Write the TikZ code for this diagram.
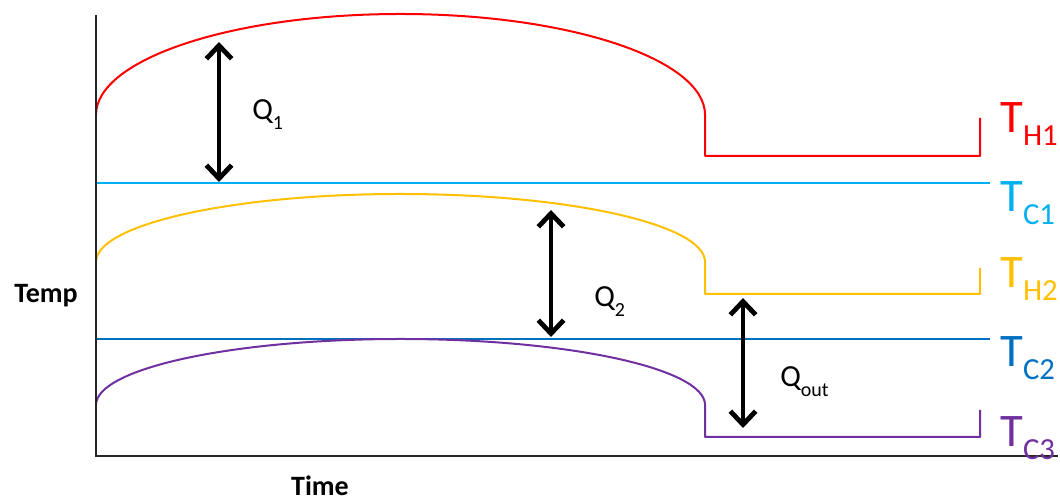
\documentclass[tikz,border=0pt]{standalone}
\usepackage{fontspec}
\setmainfont{Carlito}
\usetikzlibrary{arrows.meta}

\definecolor{hotred}{HTML}{FF0000}
\definecolor{coldone}{HTML}{00B0F0}
\definecolor{hottwo}{HTML}{FFC000}
\definecolor{coldtwo}{HTML}{0070C0}
\definecolor{coldthree}{HTML}{7030A0}

% temperature label: big T with a lowered subscript
\newcommand\templabel[1]{{\fontsize{35}{35}\selectfont T}\raisebox{-9.4pt}{\fontsize{23}{23}\selectfont #1}}
% heat label: Q with a lowered subscript
\newcommand\heatlabel[1]{{\fontsize{23}{23}\selectfont Q}\raisebox{-7pt}{\fontsize{15}{15}\selectfont #1}}

\begin{document}
\begin{tikzpicture}[x=0.75pt,y=0.75pt,
  curve/.style={line width=1.5pt, line join=round},
  level/.style={line width=1.5pt},
  axis/.style={line width=1.5pt, black!85},
  heatarrow/.style={line width=3.6pt,
    {Straight Barb[length=10pt,width=19pt]}-{Straight Barb[length=10pt,width=19pt]}},
  lbl/.style={inner sep=0pt, anchor=base west},
  axlabel/.style={inner sep=0pt, anchor=base, font=\fontsize{21}{21}\selectfont\bfseries}]

\useasboundingbox (0,0) rectangle (1060,502);

% constant cold-side temperatures
\draw[level, coldone] (96,319) -- (990,319);
\draw[level, coldtwo] (96,163) -- (990,163);

% hot-stream temperature profiles
\draw[curve, hotred] (96,387) arc[start angle=180, end angle=0, x radius=228.4pt, y radius=75.75pt]
  -- (705,346) -- (980,346) -- (980,384);
\draw[curve, hottwo] (96,240) arc[start angle=180, end angle=0, x radius=228.4pt, y radius=51pt]
  -- (705,208) -- (980,208) -- (980,234);
\draw[curve, coldthree] (96,97) arc[start angle=180, end angle=0, x radius=228.4pt, y radius=49.5pt]
  -- (705,65) -- (980,65) -- (980,92);

% axes
\coordinate (origin) at (96,46);
\coordinate (ytop) at (96,487);
\coordinate (xend) at (1058,46);
\draw[axis] (ytop) -- (origin) -- (xend);

% heat transfer arrows
\coordinate (q1a) at (219,460);
\coordinate (q1b) at (219,320);
\coordinate (q2a) at (551,292);
\coordinate (q2b) at (551,165);
\coordinate (qoa) at (743,204);
\coordinate (qob) at (743,74);
\draw[heatarrow] (q1a) -- (q1b);
\draw[heatarrow] (q2a) -- (q2b);
\draw[heatarrow] (qoa) -- (qob);

\node[lbl] (lq1) at (252,382) {\heatlabel{1}};
\node[lbl] (lq2) at (594,195) {\heatlabel{2}};
\node[lbl] (lqo) at (780,115) {\heatlabel{out}};

% stream labels
\node[lbl, text=hotred]    (th1) at (1000,369) {\templabel{H1}};
\node[lbl, text=coldone]   (tc1) at (1000,290) {\templabel{C1}};
\node[lbl, text=hottwo]    (th2) at (1000,214) {\templabel{H2}};
\node[lbl, text=coldtwo]   (tc2) at (1000,135) {\templabel{C2}};
\node[lbl, text=coldthree] (tc3) at (1000,55)  {\templabel{C3}};

% axis titles
\node[axlabel] (ylab) at (46,199) {Temp};
\node[axlabel] (xlab) at (320,6) {Time};
\end{tikzpicture}
\end{document}
